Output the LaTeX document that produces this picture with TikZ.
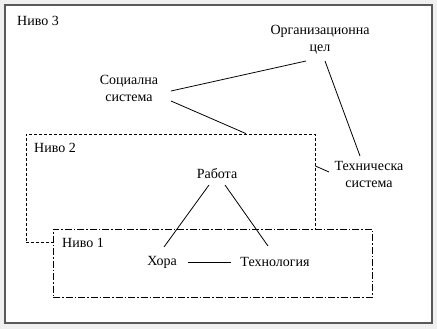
\documentclass[tikz,border=0pt]{standalone}
\usepackage{fontspec}
\setmainfont{Liberation Serif}
\begin{document}
\begin{tikzpicture}[x=1pt, y=-1pt, font=\fontsize{14}{17}\selectfont,
  lbl/.style={align=center, inner sep=0pt},
  lvltwo/.style={draw, dashed, line width=0.8pt, dash pattern=on 3pt off 2pt, inner sep=0pt},
  lvlone/.style={draw, fill=white, line width=0.8pt, dash pattern=on 7pt off 2pt on 1.5pt off 2pt, inner sep=0pt},
  link/.style={line width=0.8pt}]
  % Background and frame
  \fill[gray!12] (0,0) rectangle (437,329);
  \draw[fill=white, draw=gray!70!black, line width=1.2pt] (5,5) rectangle (432,323);
  % Level boxes
  \node[lvltwo, minimum width=289, minimum height=108] (lvl2) at (170.5,188) {};
  \node[lvlone, minimum width=319, minimum height=68] (lvl1) at (212.5,263) {};
  % Level labels
  \node[lbl, anchor=west] (n3) at (17,21) {Ниво 3};
  \node[lbl, anchor=west] (n2) at (34,148) {Ниво 2};
  \node[lbl, anchor=west] (n1) at (62,243) {Ниво 1};
  % Elements
  \node[lbl] (org) at (320,40) {Организационна\\цел};
  \node[lbl] (soc) at (129,88) {Социална\\система};
  \node[lbl] (tech) at (369,174) {Техническа\\система};
  \node[lbl] (work) at (217,174) {Работа};
  \node[lbl] (people) at (162,262) {Хора};
  \node[lbl] (techn) at (275,262) {Технология};
  % Links
  \draw[link] ([shift={(42,3)}]soc.center) -- ([shift={(-14,21)}]org.center);
  \draw[link] ([shift={(42,13)}]soc.center) -- ([xshift=75.5]lvl2.north);
  \draw[link] ([shift={(5,21)}]org.center) -- ([shift={(-9,-18)}]tech.center);
  \draw[link] ([shift={(0,-22)}]lvl2.east) -- ([shift={(-40,-2)}]tech.center);
  \draw[link] ([shift={(-8,11)}]work.center) -- ([shift={(2,-15)}]people.center);
  \draw[link] ([shift={(8,11)}]work.center) -- ([shift={(-7,-16)}]techn.center);
  \draw[link] ([xshift=26]people.center) -- ([xshift=-44]techn.center);
\end{tikzpicture}
\end{document}
